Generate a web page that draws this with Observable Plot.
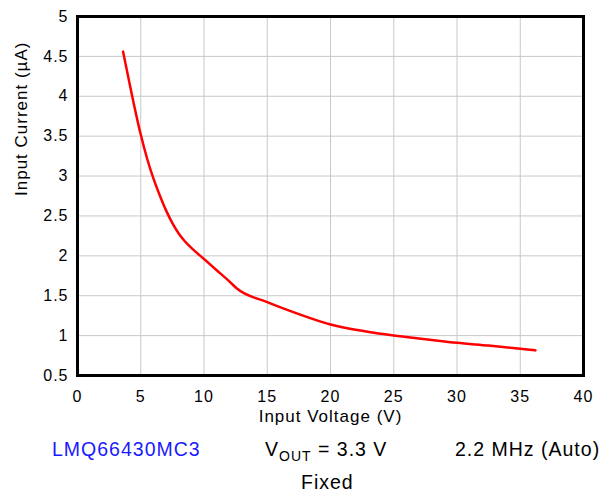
<!DOCTYPE html>
<html>
<head>
<meta charset="utf-8">
<script src="https://cdn.jsdelivr.net/npm/d3@7"></script>
<script src="https://cdn.jsdelivr.net/npm/@observablehq/plot@0.6"></script>
<style>
  body { margin: 0; background: #fff; font-family: "Liberation Sans", Arial, sans-serif; }
  #wrap { position: relative; width: 599px; height: 495px; }
  #chart svg { display: block; overflow: visible; }
  #chart svg text { letter-spacing: 1px; }
  .foot { position: absolute; font-size: 19.5px; letter-spacing: 1px; color: #000; white-space: nowrap; line-height: 1; }
  .foot sub { font-size: 14px; vertical-align: -5px; line-height: 0; }
</style>
</head>
<body>
<div id="wrap">
  <div id="chart"></div>
  <div class="foot" style="left:52px; top:440px; color:#1a1aff;">LMQ66430MC3</div>
  <div class="foot" style="left:265px; top:440px;">V<sub>OUT</sub> = 3.3 V</div>
  <div class="foot" style="left:455px; top:440px;">2.2 MHz (Auto)</div>
  <div class="foot" style="left:301px; top:473px;">Fixed</div>
</div>
<script>
const inputVoltage = [3.6, 4, 4.5, 5, 5.5, 6, 6.5, 7, 7.5, 8, 8.5, 9, 10, 11, 12, 12.6, 15, 17.5, 20, 22.5, 25, 27.5, 30, 32.5, 35, 36.2];
const inputCurrent = [4.56, 4.25, 3.87, 3.52, 3.22, 2.97, 2.76, 2.57, 2.41, 2.28, 2.18, 2.1, 1.96, 1.82, 1.68, 1.59, 1.42, 1.27, 1.14, 1.06, 1.0, 0.955, 0.91, 0.875, 0.836, 0.815];
const xTicks = [0, 5, 10, 15, 20, 25, 30, 35, 40];
const yTicks = [0.5, 1, 1.5, 2, 2.5, 3, 3.5, 4, 4.5, 5];
const xLabel = "Input Voltage (V)";
const yLabel = "Input Current (µA)";

const data = inputVoltage.map((v, i) => ({v, c: inputCurrent[i]}));

const chart = Plot.plot({
  width: 599,
  height: 425,
  marginLeft: 77,
  marginRight: 16,
  marginTop: 16,
  marginBottom: 50,
  style: { fontSize: "16px", fontFamily: "Liberation Sans, Arial, sans-serif", color: "#000", background: "#fff" },
  x: { domain: [0, 40] },
  y: { domain: [0.5, 5] },
  marks: [
    Plot.gridX(xTicks, { stroke: "#c8c8c8", strokeOpacity: 1, strokeWidth: 1 }),
    Plot.gridY(yTicks, { stroke: "#c8c8c8", strokeOpacity: 1, strokeWidth: 1 }),
    Plot.axisX(xTicks, { tickSize: 0, tickPadding: 15, label: null, fontSize: 16, tickFormat: d => String(d) }),
    Plot.axisY(yTicks, { tickSize: 0, tickPadding: 9, label: null, fontSize: 16, tickFormat: d => String(d) }),
    Plot.line(data, { x: "v", y: "c", stroke: "#ff0000", strokeWidth: 2.5, curve: "monotone-x" }),
    Plot.frame({ stroke: "#000", strokeWidth: 3 }),
    Plot.text([xLabel], { text: d => d, frameAnchor: "bottom", dy: 46, fontSize: 17 }),
    Plot.text([yLabel], { text: d => d, frameAnchor: "left", dx: -56, rotate: -90, fontSize: 17 })
  ]
});
document.getElementById("chart").appendChild(chart);
</script>
</body>
</html>
